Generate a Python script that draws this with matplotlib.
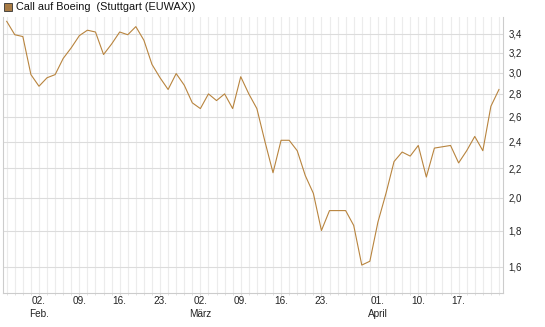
import numpy as np
import matplotlib.pyplot as plt
from matplotlib.patches import Rectangle
from matplotlib.ticker import FixedLocator, NullFormatter

plt.rcParams['font.family'] = ['Liberation Sans', 'DejaVu Sans']

# daily closing prices (trading days, late Jan - late April)
prices = [3.54, 3.39, 3.37, 2.98, 2.87, 2.95, 2.98, 3.14, 3.25, 3.38,
          3.44, 3.42, 3.18, 3.29, 3.42, 3.39, 3.48, 3.33, 3.08, 2.95,
          2.84, 2.99, 2.88, 2.72, 2.67, 2.80, 2.74, 2.80, 2.67, 2.96,
          2.80, 2.67, 2.40, 2.17, 2.41, 2.41, 2.33, 2.15, 2.03, 1.80,
          1.92, 1.92, 1.92, 1.83, 1.61, 1.63, 1.85, 2.03, 2.25, 2.32,
          2.29, 2.37, 2.14, 2.35, 2.36, 2.37, 2.24, 2.33, 2.44, 2.33,
          2.69, 2.84]

# x tick labels (index of trading day -> label)
tick_idx = [4, 9, 14, 19, 24, 29, 34, 39, 46, 51, 56]
day_labels = ["02.", "09.", "16.", "23.", "02.", "09.", "16.", "23.", "01.", "10.", "17."]
month_idx = [4, 24, 46]
month_labels = ["Feb.", "März", "April"]

y_ticks = [1.6, 1.8, 2.0, 2.2, 2.4, 2.6, 2.8, 3.0, 3.2, 3.4]

W, H = 545, 327
fig = plt.figure(figsize=(W / 100, H / 100), dpi=100)
ax = fig.add_axes([3 / W, 1 - 293 / H, 500 / W, 276 / H])

x = np.arange(len(prices))
ax.plot(x, prices, color='#b8843e', lw=0.8, zorder=3)

ax.set_yscale('log')
ax.set_ylim(1.471, 3.59)
ax.set_xlim(-0.46, 61.5)

# grid
for k in x:
    ax.axvline(k, color='#ececec', lw=0.8, zorder=1)
for v in y_ticks:
    ax.axhline(v, color='#dcdcdc', lw=0.8, zorder=2)

ax.yaxis.set_major_locator(FixedLocator(y_ticks))
ax.yaxis.set_minor_formatter(NullFormatter())
ax.yaxis.set_minor_locator(FixedLocator([]))
ax.set_yticklabels([f"{v:.1f}".replace('.', ',') for v in y_ticks])
ax.yaxis.tick_right()
ax.tick_params(axis='y', length=0, pad=4, labelsize=7, labelcolor='#222222')

ax.set_xticks(x, minor=True)
ax.set_xticks(tick_idx)
ax.set_xticklabels(day_labels)
ax.tick_params(axis='x', which='both', length=1.5, color='#dddddd', pad=0.5,
               labelsize=7.2, labelcolor='#222222')

for i, lab in zip(month_idx, month_labels):
    ax.text(i, -0.057, lab, transform=ax.get_xaxis_transform(), ha='center',
            va='top', fontsize=7.2, color='#222222')

ax.spines['top'].set_visible(False)
for s in ['left', 'bottom', 'right']:
    ax.spines[s].set_color('#cccccc')
    ax.spines[s].set_linewidth(0.8)

# legend
fig.patches.append(Rectangle((4 / W, 1 - 11 / H), 8 / W, 8 / H, transform=fig.transFigure,
                             facecolor='#a87b45', edgecolor='#333333', lw=0.6))
fig.text(16 / W, 1 - 7 / H, "Call auf Boeing  (Stuttgart (EUWAX))", fontsize=7.8,
         va='center', ha='left', color='#111111')

fig.savefig('out.png', dpi=100)
